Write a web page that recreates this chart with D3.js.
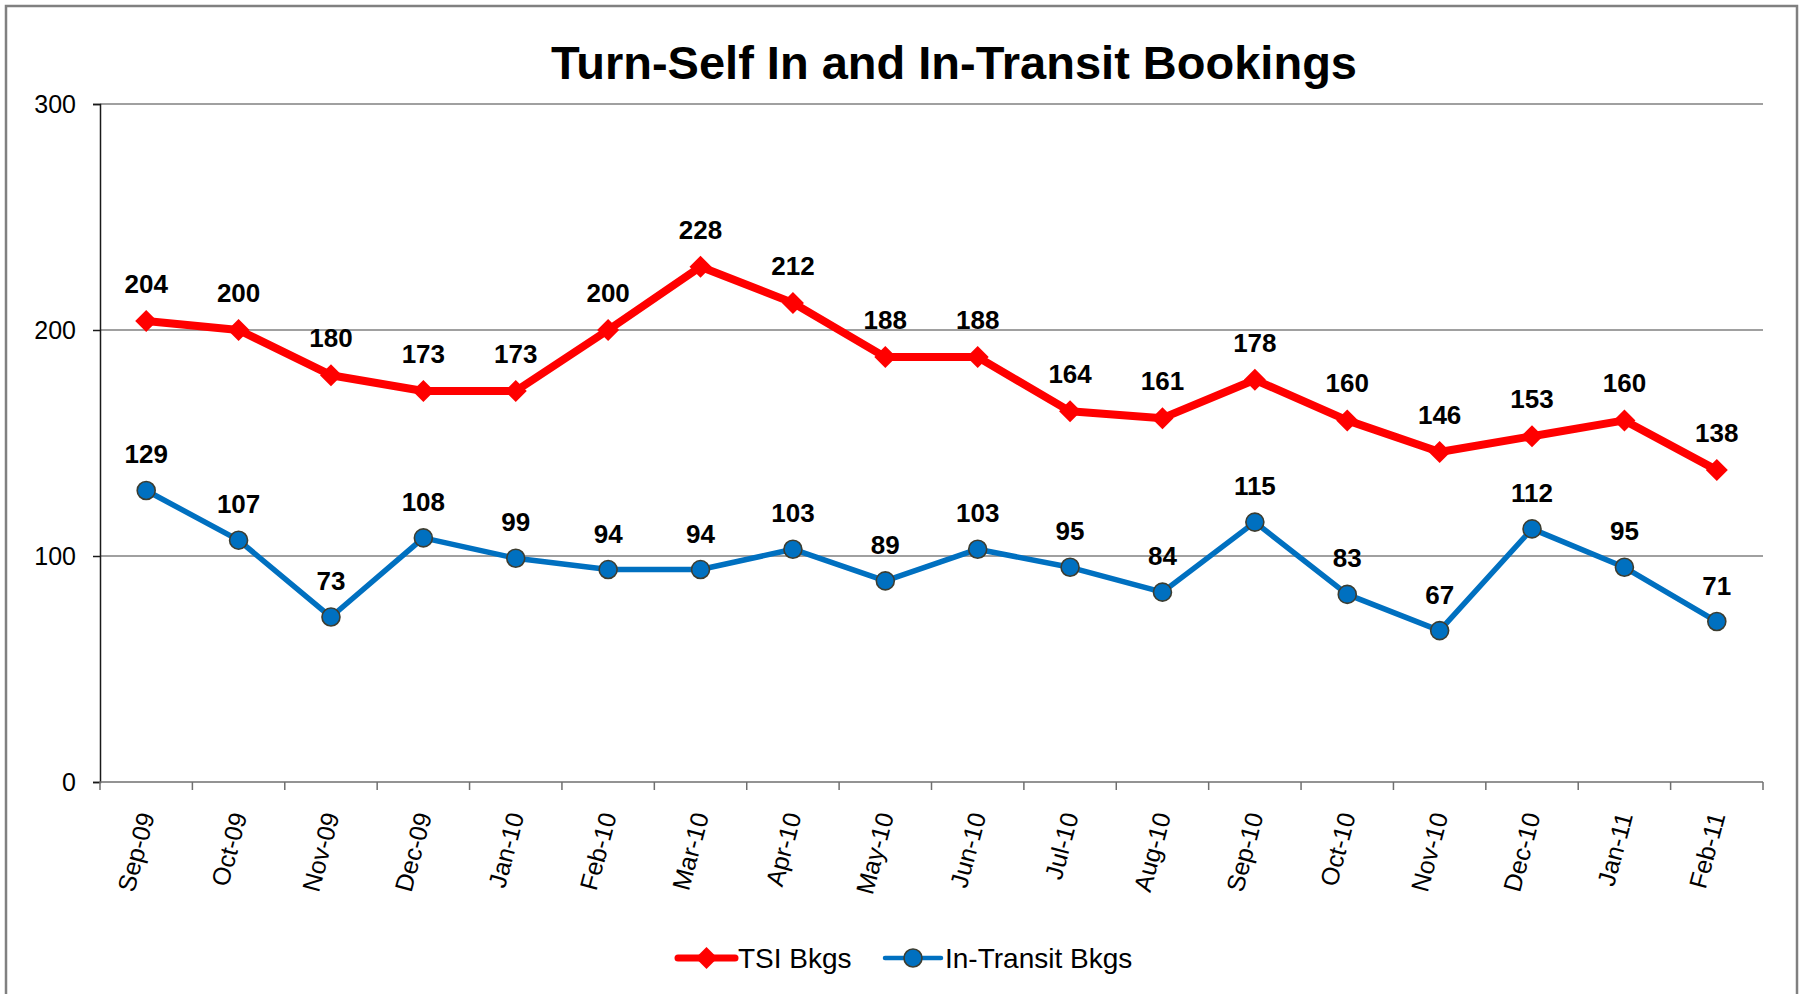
<!DOCTYPE html>
<html>
<head>
<meta charset="utf-8">
<script src="https://d3js.org/d3.v7.min.js"></script>
<style>
  html, body { margin: 0; padding: 0; background: #ffffff; }
  svg { display: block; font-family: Arial, "Liberation Sans", sans-serif; }
</style>
</head>
<body>
<div id="chart"></div>
<script>
// chart data
const MONTHS = [
  "Sep-09","Oct-09","Nov-09","Dec-09","Jan-10","Feb-10","Mar-10","Apr-10","May-10",
  "Jun-10","Jul-10","Aug-10","Sep-10","Oct-10","Nov-10","Dec-10","Jan-11","Feb-11"
];
const TSI_BKGS = [204, 200, 180, 173, 173, 200, 228, 212, 188, 188, 164, 161, 178, 160, 146, 153, 160, 138];
const IN_TRANSIT_BKGS = [129, 107, 73, 108, 99, 94, 94, 103, 89, 103, 95, 84, 115, 83, 67, 112, 95, 71];
const Y_TICKS = [0, 100, 200, 300];

const TITLE = "Turn-Self In and In-Transit Bookings";
const SERIES = [
  { name: "TSI Bkgs", values: TSI_BKGS, color: "#ff0000", width: 8, marker: "diamond", labelGap: 28 },
  { name: "In-Transit Bkgs", values: IN_TRANSIT_BKGS, color: "#0070c0", width: 5.5, marker: "circle", labelGap: 27 }
];

const W = 1803, H = 994;
const plot = { left: 100, right: 1763, top: 104, bottom: 782 };

const svg = d3.select("#chart").append("svg").attr("width", W).attr("height", H);

// outer chart border
svg.append("rect")
  .attr("x", 6).attr("y", 6)
  .attr("width", 1791).attr("height", 1010)
  .attr("fill", "#ffffff")
  .attr("stroke", "#808080")
  .attr("stroke-width", 2.5);

const x = d3.scaleBand().domain(MONTHS).range([plot.left, plot.right]).padding(0);
const y = d3.scaleLinear().domain([0, 300]).range([plot.bottom, plot.top]);
const cx = m => x(m) + x.bandwidth() / 2;

// gridlines
svg.append("g")
  .selectAll("line")
  .data(Y_TICKS.filter(t => t > 0))
  .join("line")
  .attr("x1", plot.left).attr("x2", plot.right)
  .attr("y1", d => y(d)).attr("y2", d => y(d))
  .attr("stroke", "#808080")
  .attr("stroke-width", 1.5);

// y axis
const yAxis = svg.append("g")
  .attr("transform", `translate(${plot.left},0)`)
  .call(d3.axisLeft(y).tickValues(Y_TICKS).tickSize(7).tickPadding(17));
yAxis.select(".domain").attr("stroke", "#1a1a1a").attr("stroke-width", 1.5);
yAxis.selectAll(".tick line").attr("stroke", "#1a1a1a").attr("stroke-width", 1.5);
yAxis.selectAll(".tick text")
  .attr("fill", "#000")
  .style("font-size", "25px")
  .style("font-family", "Arial, 'Liberation Sans', sans-serif");

// x axis line and ticks at category boundaries
svg.append("line")
  .attr("x1", plot.left).attr("x2", plot.right)
  .attr("y1", plot.bottom).attr("y2", plot.bottom)
  .attr("stroke", "#6f6f6f")
  .attr("stroke-width", 1.5);

const bounds = MONTHS.map(m => x(m)).concat([plot.right]);
svg.append("g")
  .selectAll("line")
  .data(bounds)
  .join("line")
  .attr("x1", d => d).attr("x2", d => d)
  .attr("y1", plot.bottom).attr("y2", plot.bottom + 8)
  .attr("stroke", "#6f6f6f")
  .attr("stroke-width", 1.5);

svg.append("g")
  .selectAll("text")
  .data(MONTHS)
  .join("text")
  .attr("transform", d => `translate(${cx(d)},${plot.bottom + 31}) rotate(-75)`)
  .attr("text-anchor", "end")
  .attr("dominant-baseline", "central")
  .style("font-size", "25px")
  .attr("fill", "#000")
  .text(d => d);

// title
svg.append("text")
  .attr("x", 954).attr("y", 79)
  .attr("text-anchor", "middle")
  .style("font-size", "47px")
  .style("font-weight", "700")
  .attr("fill", "#000")
  .text(TITLE);

const diamond = r => `M0,${-r}L${r},0L0,${r}L${-r},0Z`;

function drawMarker(g, s, px, py) {
  if (s.marker === "diamond") {
    g.append("path")
      .attr("d", diamond(11))
      .attr("transform", `translate(${px},${py})`)
      .attr("fill", s.color);
  } else {
    g.append("circle")
      .attr("cx", px).attr("cy", py).attr("r", 9)
      .attr("fill", s.color)
      .attr("stroke", "#3d3d30")
      .attr("stroke-width", 1.6);
  }
}

// series lines, markers, labels
SERIES.forEach(s => {
  const pts = MONTHS.map((m, i) => ({ m, v: s.values[i] }));
  const g = svg.append("g");

  g.append("path")
    .datum(pts)
    .attr("fill", "none")
    .attr("stroke", s.color)
    .attr("stroke-width", s.width)
    .attr("stroke-linejoin", "round")
    .attr("d", d3.line().x(d => cx(d.m)).y(d => y(d.v)));

  pts.forEach(d => drawMarker(g, s, cx(d.m), y(d.v)));

  g.selectAll("text")
    .data(pts)
    .join("text")
    .attr("x", d => cx(d.m))
    .attr("y", d => y(d.v) - s.labelGap)
    .attr("text-anchor", "middle")
    .style("font-size", "26px")
    .style("font-weight", "700")
    .attr("fill", "#000")
    .text(d => d.v);
});

// legend
const legendY = 958;
const legendItems = [
  { s: SERIES[0], x0: 678, x1: 735, tx: 738 },
  { s: SERIES[1], x0: 885, x1: 941, tx: 945 }
];
legendItems.forEach(it => {
  const g = svg.append("g");
  g.append("line")
    .attr("x1", it.x0).attr("x2", it.x1)
    .attr("y1", legendY).attr("y2", legendY)
    .attr("stroke", it.s.color)
    .attr("stroke-width", it.s.width - 1)
    .attr("stroke-linecap", "round");
  drawMarker(g, it.s, (it.x0 + it.x1) / 2, legendY);
  g.append("text")
    .attr("x", it.tx).attr("y", legendY + 10)
    .style("font-size", "28px")
    .attr("fill", "#000")
    .text(it.s.name);
});
</script>
</body>
</html>
